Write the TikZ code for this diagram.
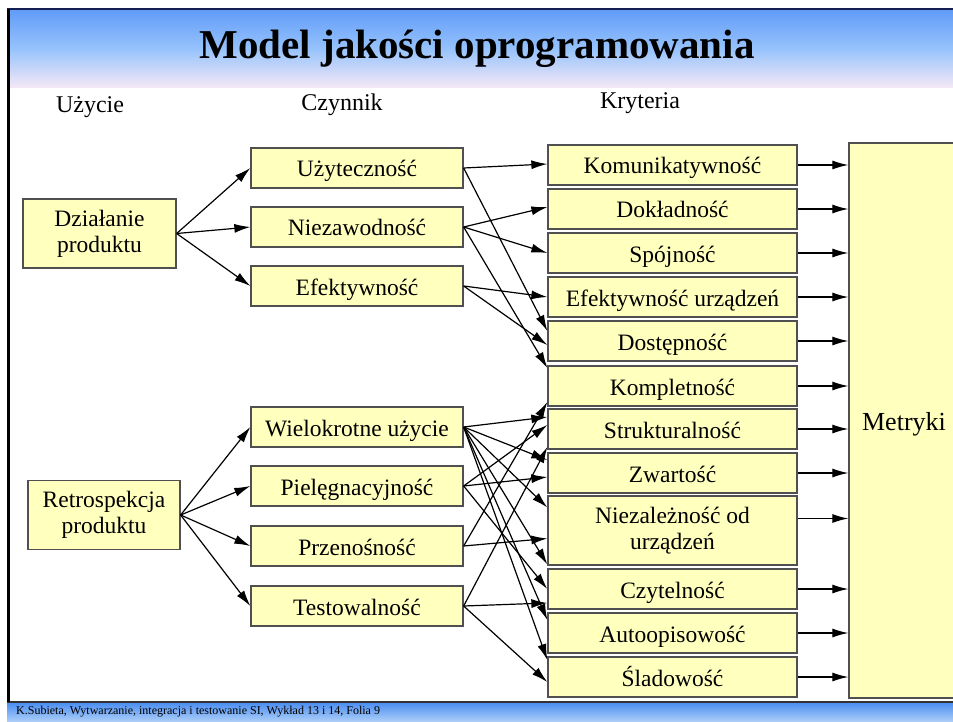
\documentclass[tikz,border=0pt]{standalone}
\usepackage{fontspec}
\setmainfont{Liberation Serif}
\usetikzlibrary{arrows.meta,calc}
\definecolor{boxfill}{RGB}{255,255,190}
\definecolor{boxedge}{RGB}{80,80,80}
\definecolor{topA}{RGB}{96,155,248}
\definecolor{topB}{RGB}{150,195,252}
\definecolor{topC}{RGB}{246,232,246}
\definecolor{botA}{RGB}{72,140,240}
\definecolor{botB}{RGB}{175,208,250}
\definecolor{navy}{RGB}{20,30,80}
\begin{document}
\begin{tikzpicture}[x=1pt,y=-1pt,
  box/.style={draw=boxedge, line width=1.3pt, fill=boxfill, inner sep=0pt,
    font=\fontsize{23.5}{26}\selectfont, align=center},
  fbox/.style={box, minimum width=212pt, minimum height=40pt, text height=20pt, text depth=2pt},
  kbox/.style={box, minimum width=249pt, minimum height=40pt, text height=20pt, text depth=2pt},
  arr/.style={line width=1.2pt, -{Latex[length=16pt,width=9pt]}},
  head/.style={font=\fontsize{24}{28}\selectfont},
]
\useasboundingbox (0,0) rectangle (953,722);
% frame and bands
\shade[top color=topA, bottom color=topC, middle color=topB] (7,9) rectangle (953,88);
\draw[line width=1.5pt, navy] (7,9) -- (953,9);
\shade[top color=botA, bottom color=botB] (7,702) rectangle (953,722);
\draw[line width=1.5pt, black!80] (7,702) -- (953,702);
\draw[line width=3pt] (8.5,9) -- (8.5,702);
% title, headings, footer
\node[font=\bfseries\fontsize{41}{46}\selectfont] (title) at (477,49) {Model jakości oprogramowania};
\node[head] (h1) at (90,107) {Użycie};
\node[head] (h2) at (342,105) {Czynnik};
\node[head] (h3) at (640,103) {Kryteria};
\node[anchor=west, font=\fontsize{12}{14}\selectfont, inner sep=0pt] (foot) at (16,712) {K.Subieta, Wytwarzanie, integracja i testowanie SI, Wykład 13 i 14, Folia 9};
% use
\node[box, minimum width=153pt, minimum height=69pt] (dz) at (99.5,233.5) {Działanie\\produktu};
\node[box, minimum width=152pt, minimum height=69pt] (re) at (104,515) {Retrospekcja\\produktu};
% factors
\node[fbox] (uz) at (357,168) {Użyteczność};
\node[fbox] (ni) at (357,227) {Niezawodność};
\node[fbox] (ef) at (357,286) {Efektywność};
\node[fbox] (wi) at (357,427) {Wielokrotne użycie};
\node[fbox] (pi) at (357,486) {Pielęgnacyjność};
\node[fbox] (pr) at (357,546) {Przenośność};
\node[fbox] (te) at (357,606) {Testowalność};
% criteria
\node[kbox] (k1) at (672.5,165) {Komunikatywność};
\node[kbox] (k2) at (672.5,209) {Dokładność};
\node[kbox] (k3) at (672.5,253) {Spójność};
\node[kbox] (k4) at (672.5,297) {Efektywność urządzeń};
\node[kbox] (k5) at (672.5,341) {Dostępność};
\node[kbox] (k6) at (672.5,386) {Kompletność};
\node[kbox] (k7) at (672.5,429) {Strukturalność};
\node[kbox] (k8) at (672.5,473) {Zwartość};
\node[box, minimum width=249pt, minimum height=69pt] (k9) at (672.5,530.5) {Niezależność od\\urządzeń};
\node[kbox] (k10) at (672.5,589) {Czytelność};
\node[kbox] (k11) at (672.5,633) {Autoopisowość};
\node[kbox] (k12) at (672.5,677) {Śladowość};
% metrics
\node[box, minimum width=110pt, minimum height=555pt, font=\fontsize{26}{30}\selectfont,
  text height=22pt, text depth=2pt] (me) at (904,420.5) {Metryki};
% use -> factor
\foreach \t in {uz,ni,ef} \draw[arr] (dz.east) -- (\t.west);
\foreach \t in {wi,pi,pr,te} \draw[arr] (re.east) -- (\t.west);
% factor -> criteria
\draw[arr] (uz.east) -- ([yshift=1pt]k1.west);
\draw[arr] (uz.east) -- ([yshift=10pt]k5.west);
\draw[arr] (ni.east) -- ([yshift=2pt]k2.west);
\draw[arr] (ni.east) -- (k3.west);
\draw[arr] (ni.east) -- ([yshift=18pt]k6.west);
\draw[arr] (ef.east) -- (k4.west);
\draw[arr] (ef.east) -- ([yshift=-4pt]k5.west);
\draw[arr] (wi.east) -- ([yshift=12pt]k7.west);
\draw[arr] (wi.east) -- ([yshift=13pt]k8.west);
\draw[arr] (wi.east) -- ([yshift=23pt]k9.west);
\draw[arr] (wi.east) -- ([yshift=-34pt]k9.west);
\draw[arr] (wi.east) -- ([yshift=13pt]k11.west);
\draw[arr] (wi.east) -- ([yshift=17pt]k12.west);
\draw[arr] (pi.east) -- ([yshift=4pt]k7.west);
\draw[arr] (pi.east) -- ([yshift=-4pt]k8.west);
\draw[arr] (pi.east) -- (k10.west);
\draw[arr] (pr.east) -- ([yshift=-16pt]k6.west);
\draw[arr] (pr.east) -- ([yshift=-8pt]k9.west);
\draw[arr] (te.east) -- ([yshift=-18pt]k7.west);
\draw[arr] (te.east) -- ([yshift=-14pt]k10.west);
\draw[arr] (te.east) -- ([yshift=-5pt]k12.west);
% criteria -> metrics
\foreach \k in {k1,k2,k3,k4,k5,k6,k7,k8,k10,k11,k12} \draw[arr] (\k.east) -- (\k.east -| me.west);
\draw[arr] ([yshift=12pt]k9.east) -- ([yshift=12pt]k9.east -| me.west);
\end{tikzpicture}
\end{document}
